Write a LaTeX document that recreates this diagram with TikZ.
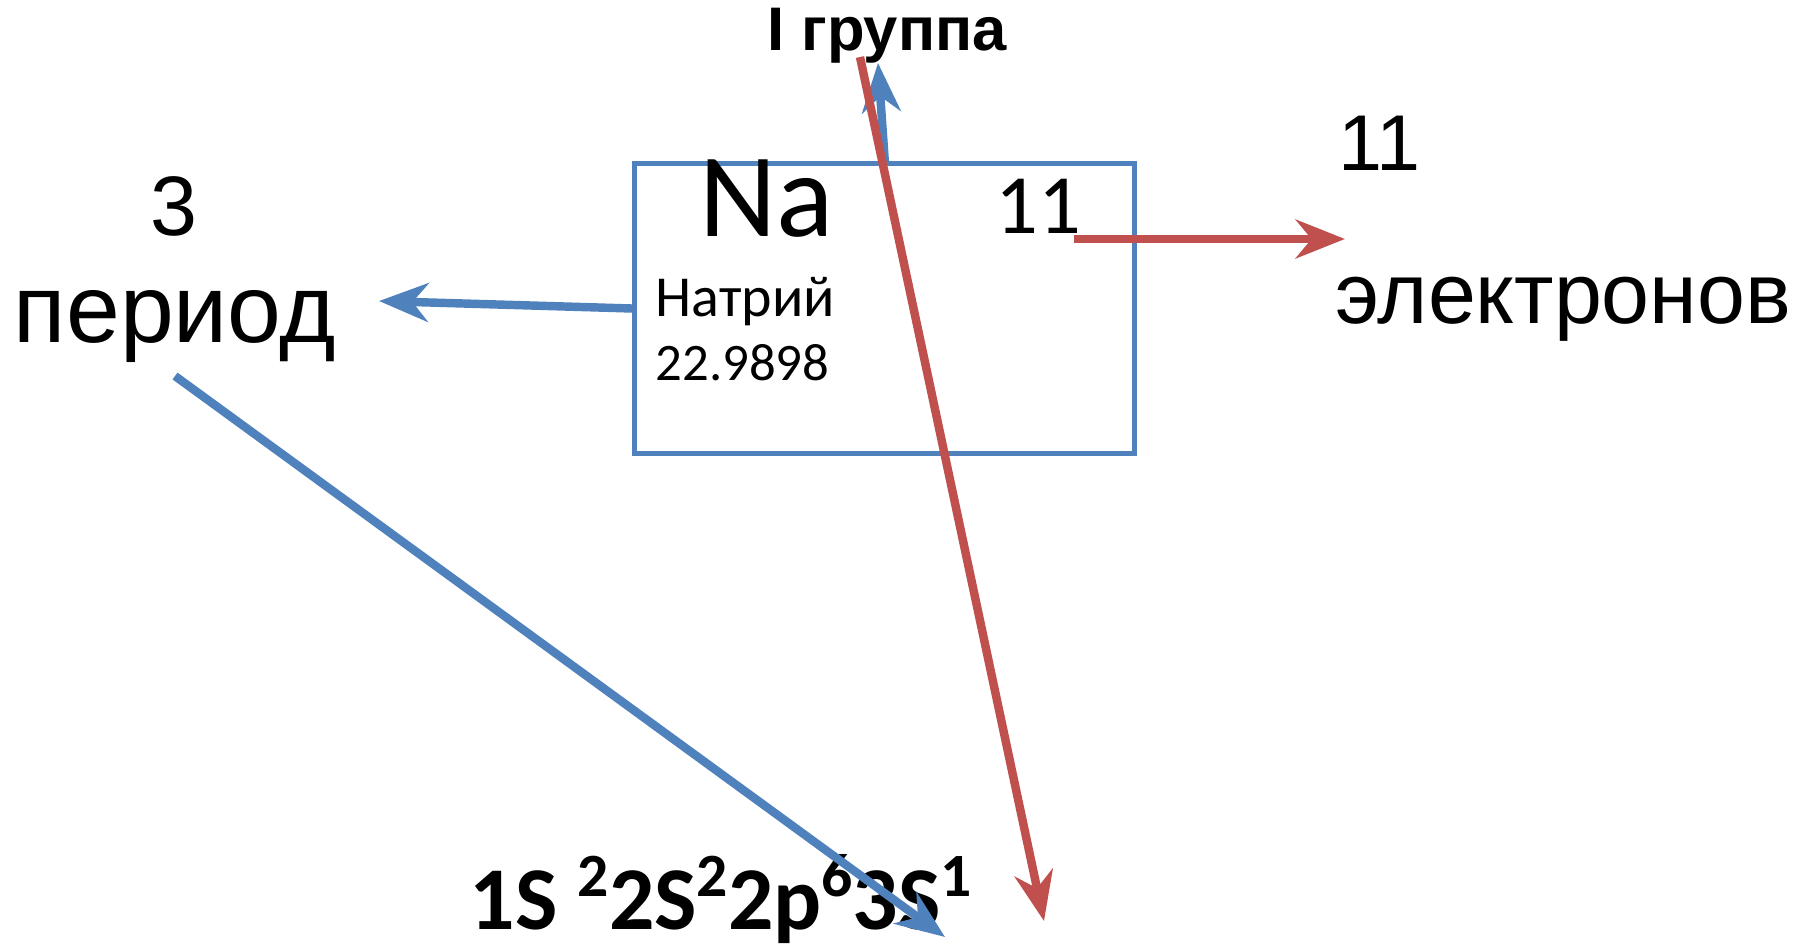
\documentclass[tikz,border=0pt]{standalone}
\usepackage{fontspec}
\setmainfont{Carlito}
\newfontfamily\arialfont{Liberation Sans}
\usetikzlibrary{arrows.meta,positioning}
\definecolor{boxblue}{HTML}{4F81BD}
\definecolor{arrred}{HTML}{C0504D}
\newcommand{\fs}[1]{\fontsize{#1pt}{#1pt}\selectfont}
\newcommand{\ex}[1]{\raisebox{0.36em}{\fs{17.5}#1}}

\begin{document}
\begin{tikzpicture}[x=0.01cm,y=-0.01cm,>={Stealth[length=14pt,width=11pt,inset=4.5pt]},
 lbl/.style={inner sep=0pt,anchor=base west},
 mid/.style={inner sep=0pt,anchor=base},
 blu/.style={draw=boxblue,line width=2.4pt,->},
 rd/.style={draw=arrred,line width=2.4pt,->}]
\useasboundingbox (0,0) rectangle (1802,951);
% element cell
\node[draw=boxblue,line width=1.4pt,minimum width=5cm,minimum height=2.89cm] (cell) at (884.5,308.5) {};
\node[lbl] (sym) at (699,236) {\fs{34}Na};
\node[lbl] (znum) at (995,233) {\fs{24}11};
\node[lbl] (name) at (655,316) {\fs{16.5}Натрий};
\node[lbl] (mass) at (655,380) {\fs{15}22.9898};
% labels round it
\node[mid] (grp) at (887,50) {\arialfont\bfseries\fs{17.5}I группа};
\node[mid] (pnum) at (174,235) {\arialfont\fs{24}3};
\node[mid] (per) at (175,342) {\arialfont\fs{27.5}период};
\node[lbl] (enum) at (1338,170) {\arialfont\fs{22.5}11};
\node[lbl] (etxt) at (1335,323) {\arialfont\fs{24.5}электронов};
\node[lbl] (conf) at (469,929) {\bfseries\fs{25.5}1S \ex{2}2S\ex{2}2p\ex{6}3S\ex{1}};
% arrow ends
\coordinate (perTip) at (379,301);
\coordinate (perFoot) at (175,376);
\coordinate (confTip) at (945,937);
\coordinate (grpFoot) at (885,164);
\coordinate (grpTip) at (878,63);
\coordinate (redTop) at (860,57);
\coordinate (redTip) at (1044,921);
\coordinate (elTail) at (1074,239);
\coordinate (elTip) at (1345,239);
\draw[blu] (cell.west)--(perTip);
\draw[blu] (perFoot)--(confTip);
\draw[blu] (grpFoot)--(grpTip);
\draw[rd] (redTop)--(redTip);
\draw[rd] (elTail)--(elTip);
\end{tikzpicture}
\end{document}
